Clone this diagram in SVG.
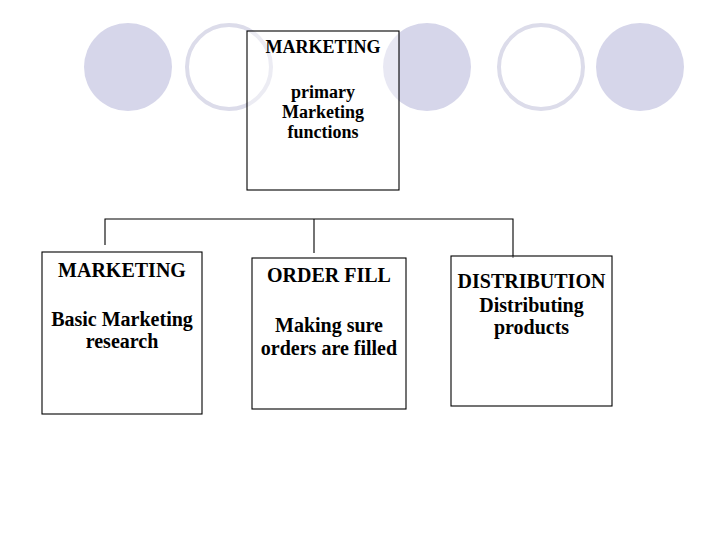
<svg xmlns="http://www.w3.org/2000/svg" width="720" height="540" viewBox="0 0 720 540">
<style>
.cf{fill:#d6d6ea;stroke:none}
.co{fill:none;stroke:#dcdcea;stroke-width:4}
.box{fill:#ffffff;fill-opacity:0.45;stroke:#000;stroke-width:1.1}
.t{font-family:"Liberation Serif","Times New Roman",serif;font-weight:bold;fill:#000;text-anchor:middle}
.conn{fill:none;stroke:#000;stroke-width:1.1}
</style>
<rect width="720" height="540" fill="#fff"/>
<g id="decor">
<circle class="cf" cx="128" cy="67" r="44"/>
<circle class="co" cx="229" cy="67" r="42"/>
<circle class="cf" cx="427" cy="67" r="44"/>
<circle class="co" cx="541" cy="67" r="42"/>
<circle class="cf" cx="640" cy="67" r="44"/>
</g>
<g id="connectors">
<path class="conn" d="M105,245 V219 H513 V258"/>
<path class="conn" d="M314,219 V253"/>
</g>
<g id="top">
<rect class="box" x="247" y="31" width="152" height="159"/>
<text class="t" x="323" y="53" font-size="18">MARKETING</text>
<text class="t" x="323" y="98" font-size="18">primary</text>
<text class="t" x="323" y="118" font-size="18">Marketing</text>
<text class="t" x="323" y="138" font-size="18">functions</text>
</g>
<g id="n1">
<rect class="box" x="42" y="252" width="160" height="162"/>
<text class="t" x="122" y="277" font-size="20">MARKETING</text>
<text class="t" x="122" y="326" font-size="20">Basic Marketing</text>
<text class="t" x="122" y="348" font-size="20">research</text>
</g>
<g id="n2">
<rect class="box" x="252" y="258" width="154" height="151"/>
<text class="t" x="329" y="282" font-size="20">ORDER FILL</text>
<text class="t" x="329" y="332" font-size="20">Making sure</text>
<text class="t" x="329" y="355" font-size="20">orders are filled</text>
</g>
<g id="n3">
<rect class="box" x="451" y="256" width="161" height="150"/>
<text class="t" x="531.5" y="288" font-size="20">DISTRIBUTION</text>
<text class="t" x="531.5" y="312" font-size="20">Distributing</text>
<text class="t" x="531.5" y="334" font-size="20">products</text>
</g>
</svg>
